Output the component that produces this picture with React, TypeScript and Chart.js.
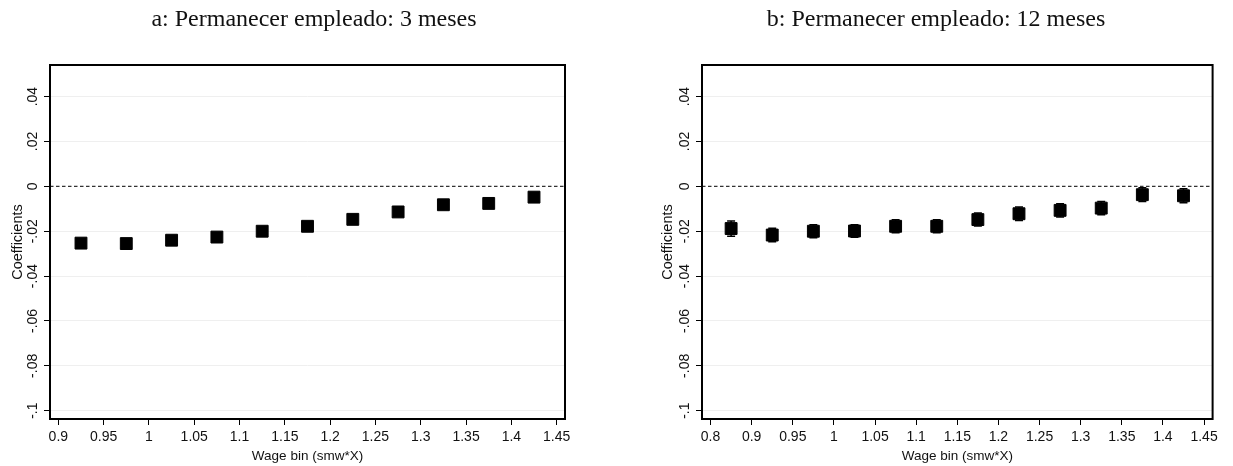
import React, { useEffect, useRef } from "react";
import { Chart, registerables } from "chart.js";

Chart.register(...registerables);

// Panel a: staying employed 3 months
const binsA = [0.925, 0.975, 1.025, 1.075, 1.125, 1.175, 1.225, 1.275, 1.325, 1.375, 1.425];
const coefA = [-0.0253, -0.0255, -0.024, -0.0226, -0.02, -0.0178, -0.0147, -0.0114, -0.0082, -0.0076, -0.0048];
const xTicksA = [0.9, 0.95, 1, 1.05, 1.1, 1.15, 1.2, 1.25, 1.3, 1.35, 1.4, 1.45];
const xLabelsA = ["0.9", "0.95", "1", "1.05", "1.1", "1.15", "1.2", "1.25", "1.3", "1.35", "1.4", "1.45"];

// Panel b: staying employed 12 months (with confidence intervals)
const binsB = [0.875, 0.925, 0.975, 1.025, 1.075, 1.125, 1.175, 1.225, 1.275, 1.325, 1.375, 1.425];
const coefB = [-0.0188, -0.0217, -0.02, -0.0199, -0.0178, -0.0178, -0.0148, -0.0122, -0.0107, -0.0097, -0.0037, -0.0042];
const loB = [-0.0222, -0.0247, -0.0229, -0.0227, -0.0207, -0.0207, -0.0177, -0.0152, -0.0137, -0.0127, -0.0068, -0.0073];
const hiB = [-0.0154, -0.0187, -0.0171, -0.0171, -0.0149, -0.0149, -0.0119, -0.0092, -0.0077, -0.0067, -0.0006, -0.0011];
const xTicksB = [0.85, 0.9, 0.95, 1, 1.05, 1.1, 1.15, 1.2, 1.25, 1.3, 1.35, 1.4, 1.45];
const xLabelsB = ["0.8", "0.9", "0.95", "1", "1.05", "1.1", "1.15", "1.2", "1.25", "1.3", "1.35", "1.4", "1.45"];

const yTicks = [0.04, 0.02, 0, -0.02, -0.04, -0.06, -0.08, -0.1];
const yLabels = [".04", ".02", "0", "-.02", "-.04", "-.06", "-.08", "-.1"];

const SANS = "'Liberation Sans', Arial, sans-serif";
const SERIF = "'Liberation Serif', 'Times New Roman', serif";

type PanelProps = {
  title: string;
  titleX: number;
  bins: number[];
  coef: number[];
  lo?: number[];
  hi?: number[];
  xTicks: number[];
  xLabels: string[];
  xMin: number;
  xMax: number;
  width: number;
  yWidth: number;
  rightPad: number;
  left: number;
};

const framePlugin = {
  id: "statFrame",
  beforeDatasetsDraw(chart: any) {
    const { ctx, chartArea } = chart;
    const y = chart.scales.y;
    const x = chart.scales.x;
    const opts = chart.options.plugins.statFrame || {};
    // dashed reference line at zero
    const y0 = y.getPixelForValue(0);
    ctx.save();
    ctx.strokeStyle = "#333";
    ctx.lineWidth = 1.2;
    ctx.setLineDash([3.5, 2.5]);
    ctx.beginPath();
    ctx.moveTo(chartArea.left, y0);
    ctx.lineTo(chartArea.right, y0);
    ctx.stroke();
    ctx.setLineDash([]);
    // confidence interval whiskers
    if (opts.lo && opts.hi) {
      ctx.strokeStyle = "#000";
      ctx.lineWidth = 1.5;
      opts.bins.forEach((b: number, i: number) => {
        const px = x.getPixelForValue(b);
        const pl = y.getPixelForValue(opts.lo[i]);
        const ph = y.getPixelForValue(opts.hi[i]);
        ctx.beginPath();
        ctx.moveTo(px, pl);
        ctx.lineTo(px, ph);
        ctx.moveTo(px - 4, pl);
        ctx.lineTo(px + 4, pl);
        ctx.moveTo(px - 4, ph);
        ctx.lineTo(px + 4, ph);
        ctx.stroke();
      });
    }
    ctx.restore();
  },
  afterDraw(chart: any) {
    const { ctx, chartArea } = chart;
    const y = chart.scales.y;
    const opts = chart.options.plugins.statFrame || {};
    ctx.save();
    // plot frame
    ctx.strokeStyle = "#000";
    ctx.lineWidth = 2;
    ctx.strokeRect(chartArea.left, chartArea.top, chartArea.right - chartArea.left, chartArea.bottom - chartArea.top);
    // rotated y tick labels
    ctx.fillStyle = "#111";
    ctx.font = `14px ${SANS}`;
    ctx.textAlign = "center";
    ctx.textBaseline = "middle";
    yTicks.forEach((v, i) => {
      const py = y.getPixelForValue(v);
      ctx.save();
      ctx.translate(chartArea.left - 17, py);
      ctx.rotate(-Math.PI / 2);
      ctx.fillText(yLabels[i], 0, 0);
      ctx.restore();
    });
    // panel title
    ctx.font = `24px ${SERIF}`;
    ctx.textBaseline = "alphabetic";
    ctx.fillText(opts.title, opts.titleX, 26);
    ctx.restore();
  },
};

function Panel(p: PanelProps) {
  const ref = useRef<HTMLCanvasElement | null>(null);
  useEffect(() => {
    if (!ref.current) return;
    const chart = new Chart(ref.current, {
      type: "scatter",
      data: {
        datasets: [
          {
            data: p.bins.map((b, i) => ({ x: b, y: p.coef[i] })),
            pointStyle: "rect",
            pointRadius: 8.4,
            pointHoverRadius: 8.4,
            backgroundColor: "#000",
            borderColor: "#000",
            borderWidth: 1,
          },
        ],
      },
      options: {
        responsive: false,
        animation: false,
        events: [],
        layout: { padding: { left: 0, right: p.rightPad, top: 65, bottom: 0 } },
        plugins: {
          legend: { display: false },
          tooltip: { enabled: false },
          title: { display: false },
          statFrame: { bins: p.bins, lo: p.lo, hi: p.hi, title: p.title, titleX: p.titleX },
        } as any,
        scales: {
          x: {
            type: "linear",
            min: p.xMin,
            max: p.xMax,
            afterBuildTicks: (s: any) => {
              s.ticks = p.xTicks.map((v) => ({ value: v }));
            },
            afterFit: (s: any) => {
              s.height = 47;
            },
            ticks: {
              color: "#111",
              font: { family: SANS, size: 14 },
              padding: 4,
              maxRotation: 0,
              autoSkip: false,
              callback: (_v: any, i: number) => p.xLabels[i],
            },
            grid: { drawOnChartArea: false, drawTicks: true, tickLength: 6, tickColor: "#000", tickWidth: 1 },
            border: { display: false },
            title: {
              display: true,
              text: "Wage bin (smw*X)",
              color: "#111",
              font: { family: SANS, size: 13.5 },
              padding: { top: 0, bottom: 2 },
            },
          },
          y: {
            type: "linear",
            min: -0.1037,
            max: 0.0541,
            afterBuildTicks: (s: any) => {
              s.ticks = yTicks.map((v) => ({ value: v }));
            },
            afterFit: (s: any) => {
              s.width = p.yWidth;
            },
            ticks: { display: false },
            grid: {
              drawTicks: true,
              tickLength: 6,
              tickColor: "#000",
              tickWidth: 1,
              lineWidth: 1,
              color: (c: any) => (c.tick && c.tick.value === 0 ? "rgba(0,0,0,0)" : "#efefef"),
            },
            border: { display: false },
            title: {
              display: true,
              text: "Coefficients",
              color: "#111",
              font: { family: SANS, size: 14.5 },
              padding: { top: 8.8, bottom: 0 },
            },
          },
        },
      } as any,
      plugins: [framePlugin],
    });
    return () => chart.destroy();
  }, []);
  return (
    <canvas
      ref={ref}
      width={p.width}
      height={466}
      style={{ position: "absolute", left: p.left, top: 0, width: p.width, height: 466 }}
    />
  );
}

export default function App() {
  return (
    <div style={{ position: "absolute", left: 0, top: 0, width: 1233, height: 466, background: "#fff" }}>
      <Panel
        title="a: Permanecer empleado: 3 meses"
        titleX={314}
        bins={binsA}
        coef={coefA}
        xTicks={xTicksA}
        xLabels={xLabelsA}
        xMin={0.8908}
        xMax={1.4592}
        width={628}
        yWidth={50}
        rightPad={63}
        left={0}
      />
      <Panel
        title="b: Permanecer empleado: 12 meses"
        titleX={286}
        bins={binsB}
        coef={coefB}
        lo={loB}
        hi={hiB}
        xTicks={xTicksB}
        xLabels={xLabelsB}
        xMin={0.8396}
        xMax={1.4604}
        width={572}
        yWidth={52}
        rightPad={6}
        left={650}
      />
    </div>
  );
}
